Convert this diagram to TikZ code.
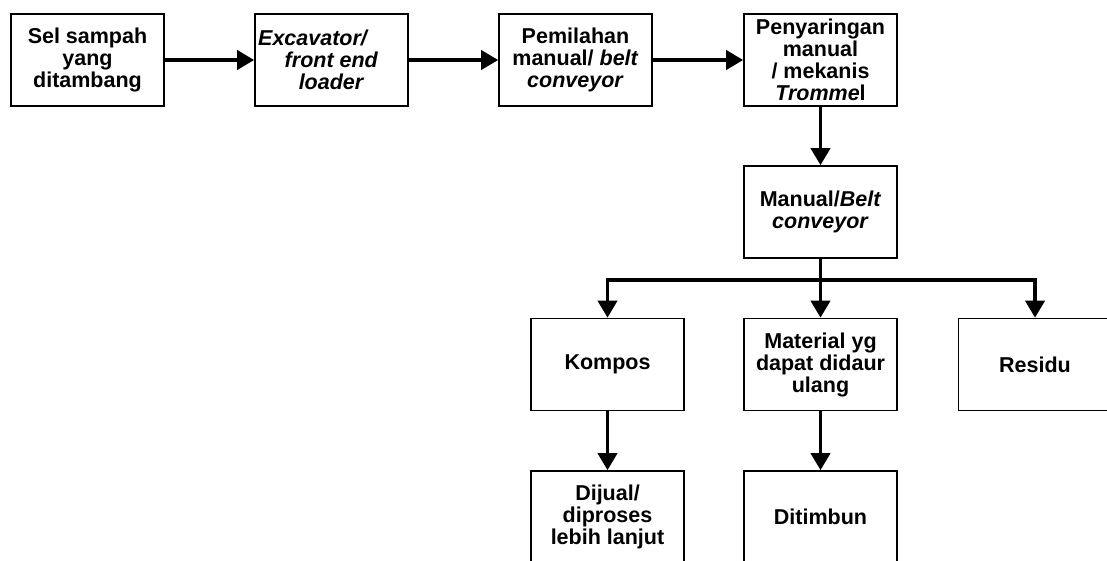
\documentclass[tikz,border=0pt]{standalone}
\usepackage{fontspec}
\setmainfont{Liberation Sans}
\usetikzlibrary{arrows.meta}
\begin{document}
\begin{tikzpicture}[x=1pt,y=-1pt,
  box/.style={draw=black,line width=1.6pt,minimum width=153pt,minimum height=92pt,
    align=center,inner sep=0pt,font=\fontsize{21.5pt}{22pt}\selectfont\bfseries},
  flow/.style={line width=3.8pt,-{Triangle[length=17pt,width=19pt]}},
  link/.style={line width=3.8pt}]
\useasboundingbox (0,0) rectangle (1107,560);
\clip (0,0) rectangle (1107,560);
\node[box] (sel) at (87.5,60) {Sel sampah\\yang\\ditambang};
\node[box] (exc) at (331.5,60) {\textit{Excavator/}\hspace*{36pt}\\\textit{front end}\\\textit{loader}};
\node[box] (pem) at (575.5,60) {Pemilahan\\manual/ \textit{belt}\\\textit{conveyor}};
\node[box] (pen) at (820.5,60) {Penyaringan\\manual\\/ mekanis\\\textit{Tromme}l};
\node[box] (man) at (820.5,212) {Manual/\textit{Belt}\\\textit{conveyor}};
\node[box] (kom) at (607.5,364.5) {Kompos};
\node[box] (mat) at (820.5,364.5) {Material yg\\dapat didaur\\ulang};
\node[box] (res) at (1035,364.5) {Residu};
\node[box] (dij) at (607.5,517) {Dijual/\\diproses\\lebih lanjut};
\node[box] (dit) at (820.5,517) {Ditimbun};
\draw[flow] (sel.east) -- (exc.west);
\draw[flow] (exc.east) -- (pem.west);
\draw[flow] (pem.east) -- (pen.west);
\draw[flow] (pen.south) -- (man.north);
\coordinate (br) at (820.5,280);
\draw[link] (man.south) -- (br);
\draw[flow] (br) -| (kom.north);
\draw[flow] (br) -| (res.north);
\draw[flow] (br) -- (mat.north);
\draw[flow] (kom.south) -- (dij.north);
\draw[flow] (mat.south) -- (dit.north);
\end{tikzpicture}
\end{document}
